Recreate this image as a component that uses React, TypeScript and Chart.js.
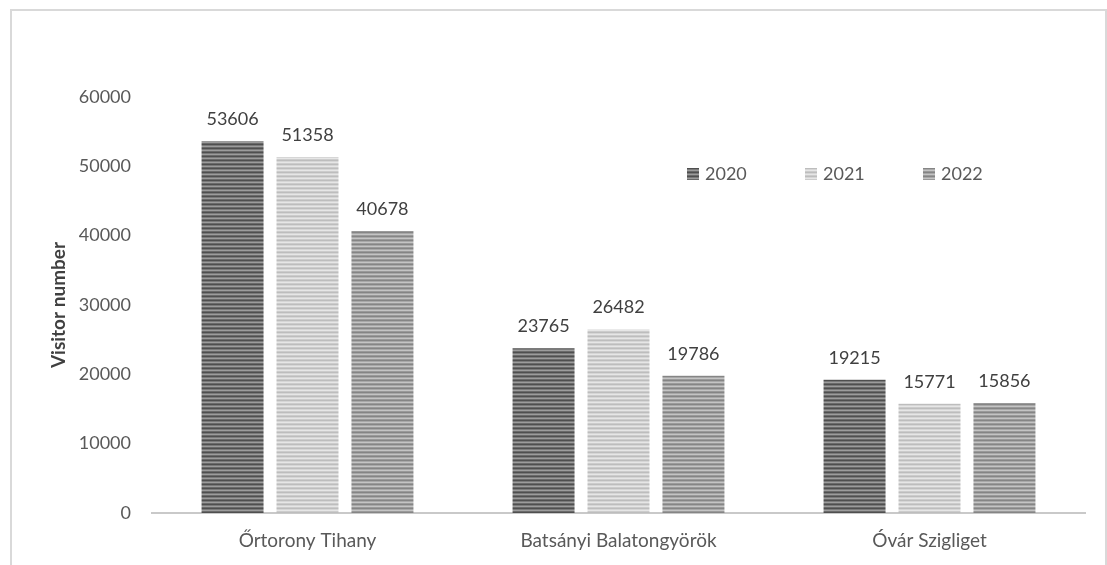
import React, { useEffect, useRef } from "react";
import { Chart, registerables } from "chart.js";

Chart.register(...registerables);

const categories = ["Őrtorony Tihany", "Batsányi Balatongyörök", "Óvár Szigliget"];
const seriesLabels = ["2020", "2021", "2022"];
const values2020 = [53606, 23765, 19215];
const values2021 = [51358, 26482, 15771];
const values2022 = [40678, 19786, 15856];
const yTicks = [0, 10000, 20000, 30000, 40000, 50000, 60000];

const FONT = "Lato, 'Open Sans', sans-serif";

function stripePattern(rows: string[]): CanvasPattern | string {
  const c = document.createElement("canvas");
  c.width = 8;
  c.height = rows.length;
  const g = c.getContext("2d");
  if (!g) return rows[0];
  rows.forEach((col, i) => {
    g.fillStyle = col;
    g.fillRect(0, i, 8, 1);
  });
  const p = g.createPattern(c, "repeat");
  return p || rows[0];
}

export default function App() {
  const ref = useRef<HTMLCanvasElement | null>(null);

  useEffect(() => {
    if (!ref.current) return;
    const fills = [
      stripePattern(["#4f4f4f", "#7a7a7a", "#9c9c9c", "#6a6a6a"]),
      stripePattern(["#bdbdbd", "#d6d6d6", "#e6e6e6", "#cccccc"]),
      stripePattern(["#858585", "#a8a8a8", "#c4c4c4", "#9a9a9a"]),
    ];
    const seriesValues = [values2020, values2021, values2022];

    const labelPlugin = {
      id: "valueLabels",
      afterDatasetsDraw(chart: any) {
        const ctx = chart.ctx;
        ctx.save();
        ctx.font = `18px ${FONT}`;
        ctx.fillStyle = "#404040";
        ctx.textAlign = "center";
        ctx.textBaseline = "alphabetic";
        chart.data.datasets.forEach((ds: any, di: number) => {
          const meta = chart.getDatasetMeta(di);
          meta.data.forEach((el: any, i: number) => {
            ctx.fillText(String(ds.data[i]), el.x, el.y - 16);
          });
        });
        ctx.restore();
      },
    };

    const legendPlugin = {
      id: "customLegend",
      afterDraw(chart: any) {
        const ctx = chart.ctx;
        ctx.save();
        ctx.font = `18px ${FONT}`;
        ctx.textBaseline = "middle";
        ctx.textAlign = "left";
        chart.data.datasets.forEach((ds: any, i: number) => {
          const x = 687 + i * 118;
          const y = 168;
          ctx.fillStyle = ds.backgroundColor;
          ctx.fillRect(x, y, 12, 12);
          ctx.fillStyle = "#595959";
          ctx.fillText(ds.label, x + 18, y + 6);
        });
        ctx.restore();
      },
    };

    const chart = new Chart(ref.current, {
      type: "bar",
      data: {
        labels: categories,
        datasets: seriesLabels.map((lab, i) => ({
          label: lab,
          data: seriesValues[i],
          backgroundColor: fills[i] as any,
          borderWidth: 0,
          categoryPercentage: 0.723,
          barPercentage: 0.827,
        })),
      },
      options: {
        animation: false,
        responsive: false,
        maintainAspectRatio: false,
        layout: { padding: { left: 0, right: 22, top: 97, bottom: 0 } },
        plugins: {
          legend: { display: false },
          tooltip: { enabled: false },
          title: { display: false },
        },
        scales: {
          x: {
            grid: { display: false, drawTicks: false },
            border: { display: true, color: "#c9c9c9", width: 2 },
            ticks: {
              color: "#595959",
              font: { family: FONT, size: 19 },
              padding: 16,
            },
            afterFit: (s: any) => {
              s.height = 52;
            },
          },
          y: {
            min: 0,
            max: 60000,
            afterBuildTicks: (s: any) => {
              s.ticks = yTicks.map((v) => ({ value: v }));
            },
            grid: { display: false, drawTicks: false },
            border: { display: false },
            ticks: {
              color: "#595959",
              font: { family: FONT, size: 18 },
              padding: 21,
              callback: (v: any) => String(v),
            },
            title: {
              display: true,
              text: "Visitor number",
              color: "#404040",
              font: { family: FONT, size: 19, weight: "bold" },
              padding: { top: 47, bottom: 0 },
            },
            afterFit: (s: any) => {
              s.width = 152;
            },
          },
        },
      },
      plugins: [labelPlugin, legendPlugin],
    });
    return () => chart.destroy();
  }, []);

  return (
    <>
      <div
        style={{
          position: "fixed",
          left: 10,
          top: 9,
          width: 1097,
          height: 600,
          boxSizing: "border-box",
          border: "2px solid #d9d9d9",
        }}
      />
      <canvas
        ref={ref}
        width={1107}
        height={565}
        style={{ position: "fixed", left: 0, top: 0, width: 1107, height: 565 }}
      />
    </>
  );
}
